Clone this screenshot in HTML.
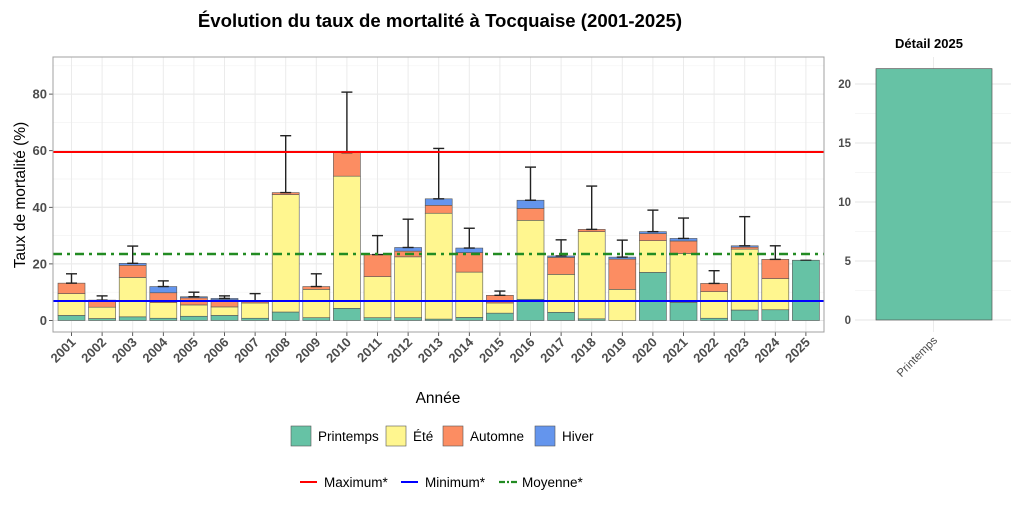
<!DOCTYPE html>
<html><head><meta charset="utf-8">
<style>
body{margin:0;background:#fff;}
svg{display:block;font-family:"Liberation Sans",Arial,sans-serif;}
</style></head>
<body>
<svg id="s" width="1024" height="512" xmlns="http://www.w3.org/2000/svg">
<rect width="1024" height="512" fill="#fff"/>
<g id="g"></g>
<text x="440" y="27" text-anchor="middle" font-size="18.6" font-weight="bold" fill="#000">Évolution du taux de mortalité à Tocquaise (2001-2025)</text>
<text x="929" y="48" text-anchor="middle" font-size="13" font-weight="bold" fill="#000">Détail 2025</text>
<text x="438" y="403" text-anchor="middle" font-size="15.5" fill="#000">Année</text>
<text transform="translate(25,195) rotate(-90)" text-anchor="middle" font-size="15.5" fill="#000">Taux de mortalité (%)</text>
<rect x="291" y="426" width="20" height="20" fill="#66c2a5" stroke="#555" stroke-width="0.6"/>
<text x="318" y="441" font-size="13.5" fill="#000">Printemps</text>
<rect x="386" y="426" width="20" height="20" fill="#fff68f" stroke="#555" stroke-width="0.6"/>
<text x="413" y="441" font-size="13.5" fill="#000">Été</text>
<rect x="443" y="426" width="20" height="20" fill="#fc8d62" stroke="#555" stroke-width="0.6"/>
<text x="470" y="441" font-size="13.5" fill="#000">Automne</text>
<rect x="535" y="426" width="20" height="20" fill="#6495ed" stroke="#555" stroke-width="0.6"/>
<text x="562" y="441" font-size="13.5" fill="#000">Hiver</text>
<line x1="300" y1="482" x2="317" y2="482" stroke="#ff0000" stroke-width="2"/>
<text x="324" y="487" font-size="13.5" fill="#000">Maximum*</text>
<line x1="401" y1="482" x2="418" y2="482" stroke="#0000ff" stroke-width="2"/>
<text x="425" y="487" font-size="13.5" fill="#000">Minimum*</text>
<line x1="499" y1="482" x2="517" y2="482" stroke="#228b22" stroke-width="2.2" stroke-dasharray="6,2,2,2"/>
<text x="522" y="487" font-size="13.5" fill="#000">Moyenne*</text>
</svg>
<script>
var g=document.getElementById('g'),h='';
function Y(v){return 320.5-2.83*v;}
var L=53,R=824,T=57,B=332;
for(var v=10;v<=90;v+=20){h+='<line x1="'+L+'" x2="'+R+'" y1="'+Y(v)+'" y2="'+Y(v)+'" stroke="#f3f3f3" stroke-width="0.7"/>';}
for(var v=0;v<=80;v+=20){h+='<line x1="'+L+'" x2="'+R+'" y1="'+Y(v)+'" y2="'+Y(v)+'" stroke="#e6e6e6" stroke-width="1"/>';
h+='<text x="47" y="'+(Y(v)+4.5)+'" text-anchor="end" font-size="13" font-weight="bold" fill="#4d4d4d">'+v+'</text>';
h+='<line x1="49" x2="'+L+'" y1="'+Y(v)+'" y2="'+Y(v)+'" stroke="#333" stroke-width="0.8"/>';}
var d=[[1.8,9.5,13.2,13.2,16.5],[0.7,4.7,7.2,7.2,8.7],[1.3,15.2,19.5,20.2,26.3],[0.8,6.3,9.8,12.0,14.0],[1.5,5.5,8.0,8.4,10.0],[1.8,4.8,7.3,7.8,8.7],[0.8,6.2,6.8,7.0,9.5],[3.0,44.5,45.2,45.2,65.3],[1.0,11.0,12.0,12.0,16.5],[4.3,51.0,59.3,59.3,80.7],[1.0,15.5,23.3,23.3,30.0],[1.0,22.5,24.5,25.8,35.8],[0.5,37.9,40.7,43.0,60.8],[1.1,17.1,24.0,25.6,32.6],[2.6,6.2,8.9,8.9,10.4],[7.5,35.4,39.6,42.5,54.2],[2.9,16.3,22.3,22.8,28.5],[0.6,31.4,32.2,32.2,47.5],[0,11.0,21.7,22.4,28.4],[17.0,28.2,30.7,31.4,39.0],[6.4,23.7,28.1,29.0,36.2],[0.8,10.2,13.1,13.1,17.6],[3.7,25.2,25.9,26.4,36.7],[3.8,14.8,21.6,21.6,26.4],[21.3,21.3,21.3,21.3,21.3]];
var cols=['#66c2a5','#fff68f','#fc8d62','#6495ed'];
for(var i=0;i<25;i++){var cx=71.5+i*30.6;h+='<line x1="'+cx+'" x2="'+cx+'" y1="'+T+'" y2="'+B+'" stroke="#ebebeb" stroke-width="1"/>';}
for(var i=0;i<25;i++){var cx=71.5+i*30.6,r=d[i],prev=0;
 for(var k=0;k<4;k++){if(r[k]>prev){h+='<rect x="'+(cx-13.5)+'" y="'+Y(r[k])+'" width="27" height="'+(Y(prev)-Y(r[k]))+'" fill="'+cols[k]+'" stroke="#555" stroke-width="0.6"/>';}prev=Math.max(prev,r[k]);}
 if(r[4]>r[3]){h+='<line x1="'+cx+'" x2="'+cx+'" y1="'+Y(r[3])+'" y2="'+Y(r[4])+'" stroke="#222" stroke-width="1.4"/>';
 h+='<line x1="'+(cx-5.5)+'" x2="'+(cx+5.5)+'" y1="'+Y(r[4])+'" y2="'+Y(r[4])+'" stroke="#222" stroke-width="1.4"/>';
 h+='<line x1="'+(cx-5.5)+'" x2="'+(cx+5.5)+'" y1="'+Y(r[3])+'" y2="'+Y(r[3])+'" stroke="#222" stroke-width="1.4"/>';}
 else{h+='<line x1="'+(cx-5.5)+'" x2="'+(cx+5.5)+'" y1="'+Y(r[3])+'" y2="'+Y(r[3])+'" stroke="#222" stroke-width="1.2"/>';}
 h+='<line x1="'+cx+'" x2="'+cx+'" y1="'+B+'" y2="'+(B+4)+'" stroke="#333" stroke-width="0.8"/>';
 h+='<text transform="translate('+(cx+5)+',343) rotate(-45)" text-anchor="end" font-size="13" font-weight="bold" fill="#4d4d4d">'+(2001+i)+'</text>';
}
h+='<line x1="'+L+'" x2="'+R+'" y1="152" y2="152" stroke="#ff0000" stroke-width="2"/>';
h+='<line x1="'+L+'" x2="'+R+'" y1="301" y2="301" stroke="#0000ff" stroke-width="2"/>';
h+='<line x1="'+L+'" x2="'+R+'" y1="254" y2="254" stroke="#228b22" stroke-width="2.4" stroke-dasharray="9,5,3,5"/>';
h+='<rect x="'+L+'" y="'+T+'" width="'+(R-L)+'" height="'+(B-T)+'" fill="none" stroke="#a0a0a0" stroke-width="1"/>';
function Y2(v){return 320-11.8*v;}
for(var v=2.5;v<=20;v+=5){h+='<line x1="855" x2="1011" y1="'+Y2(v)+'" y2="'+Y2(v)+'" stroke="#f3f3f3" stroke-width="0.7"/>';}
for(var v=0;v<=20;v+=5){h+='<line x1="855" x2="1011" y1="'+Y2(v)+'" y2="'+Y2(v)+'" stroke="#e6e6e6" stroke-width="1"/>';
h+='<text x="851" y="'+(Y2(v)+4)+'" text-anchor="end" font-size="11.5" font-weight="bold" fill="#4d4d4d">'+v+'</text>';}
h+='<line x1="933.5" x2="933.5" y1="57" y2="332" stroke="#ebebeb" stroke-width="1"/>';
h+='<rect x="876" y="'+Y2(21.3)+'" width="116" height="'+(11.8*21.3)+'" fill="#66c2a5" stroke="#555" stroke-width="0.7"/>';
h+='<text transform="translate(938,341) rotate(-45)" text-anchor="end" font-size="11.5" fill="#4d4d4d">Printemps</text>';
g.innerHTML=h;
</script>
</body></html>
